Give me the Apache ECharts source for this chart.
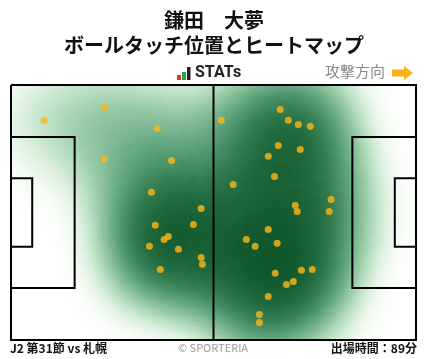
<!DOCTYPE html>
<html><head><meta charset="utf-8">
<script src="https://cdn.jsdelivr.net/npm/echarts@6/dist/echarts.min.js"></script>
<style>html,body{margin:0;padding:0;background:#fff}#c{width:428px;height:359px}</style>
</head><body><div id="c"></div>
<script>
// ---- texts ----
const playerName = '鎌田　大夢';
const chartTitle = 'ボールタッチ位置とヒートマップ';
const brandLabel = 'STATs';
const attackLabel = '攻撃方向';
const matchLabel = 'J2 第31節 vs 札幌';
const copyrightLabel = '© SPORTERIA';
const minutesLabel = '出場時間：89分';

// ---- ball touches, pitch metres (x: 0-105 attacking right, y: 0-68 from top) ----
const touchX = [8.6, 24.2, 37.9, 24.2, 41.6, 36.4, 49.3, 37.4, 47.3, 40.8, 39.7, 35.9, 43.4, 49.3, 49.6, 38.7,
                54.5, 69.8, 71.9, 74.5, 77.6, 69.3, 75.0, 66.7, 68.3, 57.6, 83.0, 73.7, 74.2, 82.5,
                66.7, 61.0, 63.3, 69.0, 68.5, 75.3, 78.1, 73.2, 71.4, 66.7, 64.4, 64.4];
const touchY = [9.4, 6.0, 11.6, 19.8, 20.1, 28.6, 32.9, 37.4, 37.2, 40.4, 41.2, 43.0, 43.8, 46.0, 47.8, 49.2,
                9.4, 6.5, 9.4, 10.5, 11.0, 16.1, 17.2, 19.0, 24.4, 26.5, 30.5, 32.1, 33.7, 33.7,
                38.5, 41.2, 43.0, 42.2, 50.2, 49.4, 49.2, 52.4, 53.2, 56.4, 61.2, 63.3];

// ---- pitch geometry (metres) ----
const PL = 105, PW = 68;
const pitchLines = [
  [[0,0],[105,0],[105,68],[0,68],[0,0]],
  [[52.5,0],[52.5,68]],
  [[0,13.84],[16.5,13.84],[16.5,54.16],[0,54.16]],
  [[0,24.84],[5.5,24.84],[5.5,43.16],[0,43.16]],
  [[105,13.84],[88.5,13.84],[88.5,54.16],[105,54.16]],
  [[105,24.84],[99.5,24.84],[99.5,43.16],[105,43.16]]
];

echarts.registerMap('pitch', {
  type: 'FeatureCollection',
  features: [{ type: 'Feature', properties: { name: 'pitch' },
    geometry: { type: 'Polygon', coordinates: [[[0,0],[PL,0],[PL,PW],[0,PW],[0,0]]] } }]
});

const toGeo = (x, y) => [x, PW - y];
const touches = touchX.map((x, i) => toGeo(x, touchY[i]));

const chart = echarts.init(document.getElementById('c'), null, { renderer: 'canvas' });
const FONT = '"Noto Sans CJK JP", "Noto Sans", sans-serif';
chart.setOption({
  animation: false,
  backgroundColor: '#fff',
  geo: {
    map: 'pitch', roam: false, silent: true,
    left: 11, top: 85, width: 405, height: 255,
    label: { show: false },
    itemStyle: { areaColor: '#fff', borderWidth: 0 },
    emphasis: { disabled: true }
  },
  visualMap: {
    show: false, type: 'continuous', seriesIndex: 0, min: 0, max: 1,
    inRange: { color: ['#dff2d9', '#9ad69a', '#55b567', '#2a9248', '#10763a', '#035b25', '#00441a'] }
  },
  graphic: [
    { type: 'text', left: 'center', top: 10, style: { text: playerName, font: 'bold 20px ' + FONT, fill: '#111' } },
    { type: 'text', left: 'center', top: 35, style: { text: chartTitle, font: 'bold 20px ' + FONT, fill: '#111' } },
    { type: 'rect', shape: { x: 177, y: 75, width: 4, height: 5 }, style: { fill: '#e5322d' } },
    { type: 'rect', shape: { x: 182, y: 72, width: 4, height: 8 }, style: { fill: '#2aa24a' } },
    { type: 'rect', shape: { x: 187, y: 67, width: 3.5, height: 13 }, style: { fill: '#222' } },
    { type: 'text', x: 195, y: 65, style: { text: brandLabel, font: 'bold 16px Roboto, sans-serif', fill: '#222' } },
    { type: 'text', x: 385, y: 64, style: { text: attackLabel, font: '15px ' + FONT, fill: '#888', align: 'right' } },
    { type: 'polygon', shape: { points: [[392,69.5],[404,69.5],[404,66],[413,73],[404,80],[404,76.5],[392,76.5]] }, style: { fill: '#f8b21c' } },
    { type: 'text', x: 10, y: 342, style: { text: matchLabel, font: 'bold 12px ' + FONT, fill: '#111' } },
    { type: 'text', x: 213, y: 342, style: { text: copyrightLabel, font: '11px ' + FONT, fill: '#999', align: 'center' } },
    { type: 'text', x: 417, y: 342, style: { text: minutesLabel, font: 'bold 12px ' + FONT, fill: '#111', align: 'right' } }
  ],
  series: [
    { type: 'heatmap', coordinateSystem: 'geo', geoIndex: 0, silent: true,
      pointSize: 30, blurSize: 80, minOpacity: 0, maxOpacity: 1,
      data: touches.map(p => [p[0], p[1], 1]) },
    { type: 'lines', coordinateSystem: 'geo', geoIndex: 0, polyline: true, silent: true, z: 4,
      lineStyle: { color: '#000', width: 2, opacity: 1 },
      data: pitchLines.map(c => ({ coords: c.map(p => toGeo(p[0], p[1])) })) },
    { type: 'scatter', coordinateSystem: 'geo', geoIndex: 0, silent: true, z: 5,
      symbolSize: 7, itemStyle: { color: '#ffb619' },
      data: touches }
  ]
});
</script></body></html>
